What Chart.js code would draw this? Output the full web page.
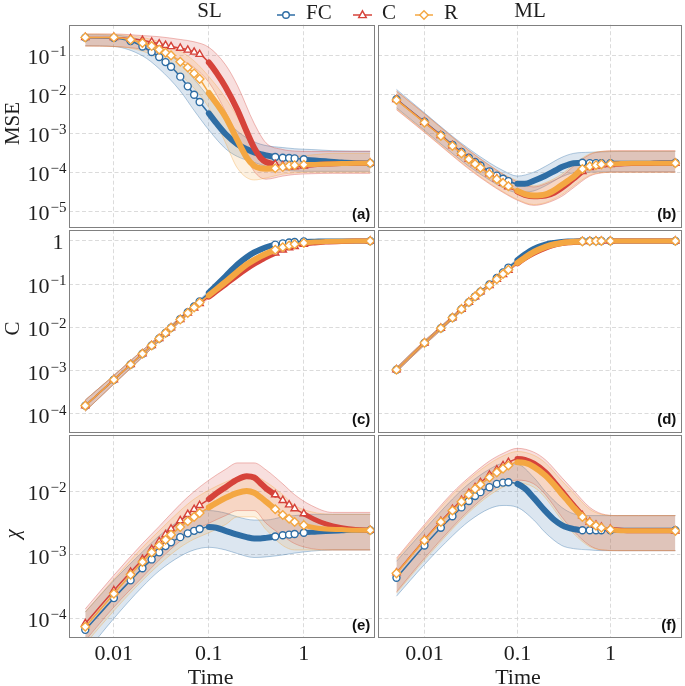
<!DOCTYPE html>
<html>
<head>
<meta charset="utf-8">
<title>MSE, C and chi over time, SL and ML</title>
<script src="https://cdn.jsdelivr.net/npm/chart.js@4.4.1/dist/chart.umd.min.js"></script>
<style>
  html, body { margin: 0; padding: 0; background: #fff; }
  #fig { position: relative; width: 685px; height: 686px; overflow: hidden; }
  #fig canvas { position: absolute; }
</style>
</head>
<body>
<div id="fig"><canvas id="head" width="685" height="26" style="left:0;top:0"></canvas></div>
<script>
// time grid of the mean curves, and of the spread bands
const times = [0.005, 0.01, 0.015, 0.02, 0.025, 0.03, 0.035, 0.04, 0.05, 0.06, 0.07, 0.08, 0.1, 0.12, 0.15, 0.2, 0.25, 0.3, 0.35, 0.4, 0.5, 0.6, 0.7, 0.8, 1, 1.3, 1.7, 2.5, 3.5, 5];
const bandTimes = [0.005, 0.01, 0.02, 0.03, 0.05, 0.07, 0.1, 0.15, 0.2, 0.3, 0.4, 0.6, 0.8, 1.2, 2, 5];

// ticks
const xTicks = [0.01, 0.1, 1];
const xTickLabels = ['0.01', '0.1', '1'];
const mseTicks = [1e-5, 1e-4, 1e-3, 1e-2, 1e-1];
const mseTickLabels = ['10^\u22125', '10^\u22124', '10^\u22123', '10^\u22122', '10^\u22121'];
const concTicks = [1e-4, 1e-3, 1e-2, 1e-1, 1];
const concTickLabels = ['10^\u22124', '10^\u22123', '10^\u22122', '10^\u22121', '1'];
const chiTicks = [1e-4, 1e-3, 1e-2];
const chiTickLabels = ['10^\u22124', '10^\u22123', '10^\u22122'];

// (a) SL, MSE
const slMseFC = [0.28, 0.275, 0.229, 0.166, 0.12, 0.089, 0.066, 0.05, 0.028, 0.0158, 0.0096, 0.0063, 0.0032, 0.0018, 9.5e-4, 5.2e-4, 3.9e-4, 3.2e-4, 2.9e-4, 2.7e-4, 2.45e-4, 2.35e-4, 2.3e-4, 2.25e-4, 2.15e-4, 2.05e-4, 1.95e-4, 1.82e-4, 1.75e-4, 1.7e-4];
const slMseC = [0.284, 0.284, 0.263, 0.24, 0.214, 0.195, 0.178, 0.166, 0.151, 0.135, 0.12, 0.105, 0.0646, 0.0355, 0.0151, 0.0039, 0.0011, 4.2e-4, 2.35e-4, 1.82e-4, 1.58e-4, 1.45e-4, 1.38e-4, 1.38e-4, 1.45e-4, 1.55e-4, 1.62e-4, 1.66e-4, 1.7e-4, 1.7e-4];
const slMseR = [0.284, 0.284, 0.248, 0.204, 0.17, 0.138, 0.115, 0.098, 0.0676, 0.0479, 0.0339, 0.0245, 0.0107, 0.0058, 0.0026, 6.6e-4, 2.4e-4, 1.45e-4, 1.26e-4, 1.23e-4, 1.26e-4, 1.35e-4, 1.45e-4, 1.51e-4, 1.55e-4, 1.58e-4, 1.62e-4, 1.66e-4, 1.7e-4, 1.7e-4];
const slMseFCLo = [0.174, 0.166, 0.0955, 0.0447, 0.012, 0.0038, 0.0012, 3.98e-4, 2.51e-4, 1.78e-4, 1.41e-4, 1.15e-4, 1.07e-4, 1.05e-4, 1.05e-4, 1.05e-4];
const slMseFCHi = [0.331, 0.324, 0.24, 0.151, 0.0603, 0.024, 0.0083, 0.0024, 0.00112, 6.0e-4, 4.8e-4, 4.27e-4, 3.98e-4, 3.8e-4, 3.55e-4, 3.39e-4];
const slMseCLo = [0.17, 0.166, 0.141, 0.112, 0.0759, 0.0479, 0.02, 0.00355, 7.94e-4, 1.05e-4, 6.61e-5, 7.94e-5, 8.71e-5, 9.12e-5, 9.33e-5, 9.33e-5];
const slMseCHi = [0.347, 0.347, 0.316, 0.295, 0.251, 0.219, 0.158, 0.0562, 0.0166, 0.00178, 5.62e-4, 3.8e-4, 3.47e-4, 3.39e-4, 3.39e-4, 3.47e-4];
const slMseRLo = [0.17, 0.166, 0.126, 0.0794, 0.0316, 0.0141, 0.00447, 5.62e-4, 1.26e-4, 6.31e-5, 7.08e-5, 8.91e-5, 9.55e-5, 1e-4, 1e-4, 1e-4];
const slMseRHi = [0.347, 0.339, 0.282, 0.219, 0.126, 0.0708, 0.0282, 0.00794, 0.00251, 3.98e-4, 2.63e-4, 2.4e-4, 2.51e-4, 2.75e-4, 3.02e-4, 3.02e-4];

// (b) ML, MSE
const mlMseFC = [7.41e-3, 1.95e-3, 8.91e-4, 5.01e-4, 3.31e-4, 2.34e-4, 1.82e-4, 1.48e-4, 1.05e-4, 8.13e-5, 6.76e-5, 5.89e-5, 5.01e-5, 5.01e-5, 6.03e-5, 8.13e-5, 1.07e-4, 1.35e-4, 1.55e-4, 1.7e-4, 1.74e-4, 1.7e-4, 1.7e-4, 1.7e-4, 1.7e-4, 1.7e-4, 1.7e-4, 1.7e-4, 1.74e-4, 1.74e-4];
const mlMseC = [7.24e-3, 1.91e-3, 8.71e-4, 4.79e-4, 3.09e-4, 2.19e-4, 1.66e-4, 1.32e-4, 9.12e-5, 6.76e-5, 5.25e-5, 4.27e-5, 3.16e-5, 2.63e-5, 2.4e-5, 2.51e-5, 3.02e-5, 3.98e-5, 5.25e-5, 6.76e-5, 1.05e-4, 1.32e-4, 1.45e-4, 1.55e-4, 1.58e-4, 1.62e-4, 1.66e-4, 1.66e-4, 1.7e-4, 1.7e-4];
const mlMseR = [7.08e-3, 1.86e-3, 8.51e-4, 4.68e-4, 3.02e-4, 2.14e-4, 1.62e-4, 1.29e-4, 8.91e-5, 6.61e-5, 5.25e-5, 4.37e-5, 3.31e-5, 2.75e-5, 2.51e-5, 2.69e-5, 3.47e-5, 4.68e-5, 6.03e-5, 7.59e-5, 1.2e-4, 1.41e-4, 1.51e-4, 1.58e-4, 1.62e-4, 1.66e-4, 1.7e-4, 1.7e-4, 1.7e-4, 1.7e-4];
const mlMseFCLo = [4.47e-3, 1.17e-3, 3.02e-4, 1.41e-4, 6.31e-5, 3.98e-5, 3.02e-5, 3.31e-5, 4.47e-5, 7.59e-5, 9.55e-5, 1e-4, 1.02e-4, 1.02e-4, 1.02e-4, 1.02e-4];
const mlMseFCHi = [1.32e-2, 3.31e-3, 8.32e-4, 3.98e-4, 1.74e-4, 1.1e-4, 7.94e-5, 1e-4, 1.41e-4, 2.4e-4, 3.02e-4, 3.24e-4, 3.31e-4, 3.39e-4, 3.39e-4, 3.39e-4];
const mlMseCLo = [3.98e-3, 1.05e-3, 2.63e-4, 1.2e-4, 5.01e-5, 3.02e-5, 1.91e-5, 1.41e-5, 1.58e-5, 2.4e-5, 3.98e-5, 7.94e-5, 9.55e-5, 1e-4, 1e-4, 1e-4];
const mlMseCHi = [1.2e-2, 3.16e-3, 7.94e-4, 3.63e-4, 1.51e-4, 8.91e-5, 5.62e-5, 4.17e-5, 5.01e-5, 7.94e-5, 1.41e-4, 2.82e-4, 3.39e-4, 3.55e-4, 3.55e-4, 3.55e-4];
const mlMseRLo = [4.17e-3, 1.1e-3, 2.75e-4, 1.26e-4, 5.25e-5, 3.16e-5, 2e-5, 1.48e-5, 1.66e-5, 2.63e-5, 4.37e-5, 8.32e-5, 9.77e-5, 1e-4, 1e-4, 1e-4];
const mlMseRHi = [1.17e-2, 3.09e-3, 7.76e-4, 3.55e-4, 1.48e-4, 8.91e-5, 6.03e-5, 4.47e-5, 5.37e-5, 8.91e-5, 1.58e-4, 2.95e-4, 3.39e-4, 3.47e-4, 3.47e-4, 3.47e-4];

// (c) SL, C
const slConcFC = [1.55e-4, 6.17e-4, 1.38e-3, 2.45e-3, 3.8e-3, 5.5e-3, 7.41e-3, 9.77e-3, 1.55e-2, 2.24e-2, 3.02e-2, 3.98e-2, 6.31e-2, 9.33e-2, 0.151, 0.282, 0.417, 0.537, 0.631, 0.708, 0.813, 0.871, 0.912, 0.933, 0.966, 0.977, 0.989, 0.99, 0.99, 0.99];
const slConcC = [1.55e-4, 6.17e-4, 1.38e-3, 2.45e-3, 3.8e-3, 5.5e-3, 7.41e-3, 9.77e-3, 1.51e-2, 2.14e-2, 2.82e-2, 3.55e-2, 5.13e-2, 6.92e-2, 0.1, 0.162, 0.229, 0.295, 0.355, 0.417, 0.525, 0.617, 0.692, 0.741, 0.832, 0.891, 0.933, 0.966, 0.982, 0.99];
const slConcR = [1.55e-4, 6.17e-4, 1.38e-3, 2.45e-3, 3.8e-3, 5.5e-3, 7.41e-3, 9.77e-3, 1.51e-2, 2.14e-2, 2.88e-2, 3.72e-2, 5.5e-2, 7.59e-2, 0.112, 0.191, 0.282, 0.363, 0.437, 0.501, 0.617, 0.708, 0.776, 0.832, 0.891, 0.933, 0.955, 0.977, 0.988, 0.99];
const slConcFCLo = [1.15e-4, 4.9e-4, 2.04e-3, 4.79e-3, 1.38e-2, 2.75e-2, 5.75e-2, 0.138, 0.257, 0.501, 0.661, 0.832, 0.902, 0.951, 0.968, 0.968];
const slConcFCHi = [2.09e-4, 7.76e-4, 2.95e-3, 6.31e-3, 1.74e-2, 3.31e-2, 6.92e-2, 0.166, 0.309, 0.575, 0.759, 0.912, 0.966, 0.995, 1.014, 1.014];
const slConcCLo = [1.15e-4, 4.9e-4, 2.04e-3, 4.79e-3, 1.35e-2, 2.57e-2, 4.68e-2, 9.12e-2, 0.148, 0.275, 0.389, 0.589, 0.716, 0.851, 0.933, 0.966];
const slConcCHi = [2.09e-4, 7.76e-4, 2.95e-3, 6.31e-3, 1.7e-2, 3.09e-2, 5.62e-2, 0.11, 0.178, 0.316, 0.447, 0.646, 0.767, 0.891, 0.977, 1.012];
const slConcRLo = [1.15e-4, 4.9e-4, 2.04e-3, 4.79e-3, 1.35e-2, 2.63e-2, 5.01e-2, 0.102, 0.174, 0.339, 0.468, 0.676, 0.804, 0.891, 0.944, 0.968];
const slConcRHi = [2.09e-4, 7.76e-4, 2.95e-3, 6.31e-3, 1.7e-2, 3.16e-2, 6.03e-2, 0.123, 0.209, 0.389, 0.537, 0.741, 0.861, 0.933, 0.989, 1.014];

// (d) ML, C
const mlConcFC = [1.05e-3, 4.37e-3, 9.55e-3, 1.66e-2, 2.63e-2, 3.8e-2, 5.13e-2, 6.61e-2, 9.77e-2, 0.138, 0.186, 0.24, 0.355, 0.479, 0.646, 0.813, 0.891, 0.933, 0.955, 0.966, 0.977, 0.984, 0.989, 0.99, 0.99, 0.99, 0.99, 0.99, 0.99, 0.99];
const mlConcC = [1.05e-3, 4.37e-3, 9.55e-3, 1.66e-2, 2.63e-2, 3.8e-2, 5.13e-2, 6.61e-2, 9.33e-2, 0.129, 0.166, 0.209, 0.302, 0.398, 0.525, 0.692, 0.813, 0.881, 0.918, 0.94, 0.964, 0.975, 0.982, 0.986, 0.99, 0.99, 0.99, 0.99, 0.99, 0.99];
const mlConcR = [1.05e-3, 4.37e-3, 9.55e-3, 1.66e-2, 2.63e-2, 3.8e-2, 5.13e-2, 6.61e-2, 9.33e-2, 0.129, 0.17, 0.214, 0.309, 0.407, 0.55, 0.724, 0.832, 0.891, 0.923, 0.944, 0.966, 0.977, 0.982, 0.986, 0.99, 0.99, 0.99, 0.99, 0.99, 0.99];
const mlConcFCLo = [9.33e-4, 3.89e-3, 1.51e-2, 3.47e-2, 9.12e-2, 0.174, 0.331, 0.617, 0.776, 0.912, 0.944, 0.962, 0.968, 0.968, 0.968, 0.968];
const mlConcFCHi = [1.17e-3, 4.9e-3, 1.82e-2, 4.17e-2, 0.105, 0.2, 0.38, 0.676, 0.851, 0.955, 0.989, 1.007, 1.014, 1.014, 1.014, 1.014];
const mlConcCLo = [9.33e-4, 3.89e-3, 1.51e-2, 3.47e-2, 8.71e-2, 0.155, 0.282, 0.501, 0.661, 0.861, 0.918, 0.953, 0.964, 0.968, 0.968, 0.968];
const mlConcCHi = [1.17e-3, 4.9e-3, 1.82e-2, 4.17e-2, 0.1, 0.178, 0.324, 0.55, 0.724, 0.902, 0.962, 0.998, 1.009, 1.014, 1.014, 1.014];
const mlConcRLo = [9.33e-4, 3.89e-3, 1.51e-2, 3.47e-2, 8.71e-2, 0.158, 0.288, 0.525, 0.692, 0.871, 0.923, 0.955, 0.964, 0.968, 0.968, 0.968];
const mlConcRHi = [1.17e-3, 4.9e-3, 1.82e-2, 4.17e-2, 0.1, 0.182, 0.331, 0.575, 0.759, 0.912, 0.966, 1.0, 1.009, 1.014, 1.014, 1.014];

// (e) SL, chi
const slChiFC = [6.61e-5, 2.09e-4, 3.98e-4, 6.17e-4, 8.51e-4, 1.1e-3, 1.38e-3, 1.58e-3, 1.91e-3, 2.19e-3, 2.4e-3, 2.57e-3, 2.75e-3, 2.69e-3, 2.4e-3, 2.09e-3, 1.91e-3, 1.82e-3, 1.82e-3, 1.86e-3, 1.95e-3, 2.04e-3, 2.09e-3, 2.14e-3, 2.24e-3, 2.29e-3, 2.34e-3, 2.4e-3, 2.45e-3, 2.45e-3];
const slChiC = [8.32e-5, 2.75e-4, 5.37e-4, 8.51e-4, 1.23e-3, 1.62e-3, 2.09e-3, 2.57e-3, 3.47e-3, 4.37e-3, 5.25e-3, 6.03e-3, 7.59e-3, 9.33e-3, 1.17e-2, 1.55e-2, 1.74e-2, 1.66e-2, 1.35e-2, 1.12e-2, 8.91e-3, 7.24e-3, 6.17e-3, 5.37e-3, 4.47e-3, 3.63e-3, 3.09e-3, 2.69e-3, 2.51e-3, 2.45e-3];
const slChiR = [7.41e-5, 2.45e-4, 4.9e-4, 7.76e-4, 1.1e-3, 1.41e-3, 1.74e-3, 2.09e-3, 2.75e-3, 3.39e-3, 3.98e-3, 4.57e-3, 5.62e-3, 6.61e-3, 7.94e-3, 9.55e-3, 1.02e-2, 9.55e-3, 8.13e-3, 6.92e-3, 5.25e-3, 4.27e-3, 3.72e-3, 3.31e-3, 2.95e-3, 2.69e-3, 2.57e-3, 2.51e-3, 2.45e-3, 2.45e-3];
const slChiFCLo = [2.82e-5, 1e-4, 3.16e-4, 5.62e-4, 9.55e-4, 1.2e-3, 1.32e-3, 1.2e-3, 1.05e-3, 9.12e-4, 9.33e-4, 1e-3, 1.07e-3, 1.15e-3, 1.2e-3, 1.2e-3];
const slChiFCHi = [1.26e-4, 3.98e-4, 1.12e-3, 2e-3, 3.55e-3, 4.57e-3, 5.01e-3, 4.57e-3, 3.98e-3, 3.55e-3, 3.55e-3, 3.98e-3, 4.17e-3, 4.37e-3, 4.37e-3, 4.37e-3];
const slChiCLo = [4.47e-5, 1.51e-4, 4.47e-4, 8.32e-4, 1.66e-3, 2.4e-3, 3.16e-3, 4.17e-3, 5.01e-3, 5.01e-3, 3.16e-3, 2e-3, 1.51e-3, 1.26e-3, 1.2e-3, 1.2e-3];
const slChiCHi = [1.41e-4, 4.79e-4, 1.51e-3, 2.82e-3, 6.31e-3, 1e-2, 1.51e-2, 2.24e-2, 2.82e-2, 2.82e-2, 2.19e-2, 1.32e-2, 8.91e-3, 6.03e-3, 4.68e-3, 4.68e-3];
const slChiRLo = [3.98e-5, 1.32e-4, 3.98e-4, 7.08e-4, 1.32e-3, 1.78e-3, 2.24e-3, 3.02e-3, 3.98e-3, 3.98e-3, 2.51e-3, 1.41e-3, 1.2e-3, 1.2e-3, 1.2e-3, 1.2e-3];
const slChiRHi = [1.26e-4, 4.17e-4, 1.32e-3, 2.4e-3, 5.01e-3, 7.59e-3, 1.05e-2, 1.41e-2, 1.66e-2, 1.74e-2, 1.41e-2, 8.91e-3, 6.03e-3, 4.79e-3, 4.37e-3, 4.37e-3];

// (f) ML, chi
const mlChiFC = [4.37e-4, 1.41e-3, 2.69e-3, 4.07e-3, 5.62e-3, 7.08e-3, 8.51e-3, 9.77e-3, 1.17e-2, 1.32e-2, 1.38e-2, 1.4e-2, 1.32e-2, 1.12e-2, 7.94e-3, 4.9e-3, 3.55e-3, 2.95e-3, 2.69e-3, 2.57e-3, 2.45e-3, 2.45e-3, 2.45e-3, 2.45e-3, 2.45e-3, 2.45e-3, 2.45e-3, 2.45e-3, 2.45e-3, 2.45e-3];
const mlChiC = [5.25e-4, 1.74e-3, 3.39e-3, 5.25e-3, 7.24e-3, 9.33e-3, 1.15e-2, 1.38e-2, 1.82e-2, 2.19e-2, 2.57e-2, 2.88e-2, 3.24e-2, 3.16e-2, 2.75e-2, 2e-2, 1.38e-2, 1e-2, 7.59e-3, 6.03e-3, 4.17e-3, 3.31e-3, 2.95e-3, 2.75e-3, 2.57e-3, 2.45e-3, 2.4e-3, 2.4e-3, 2.4e-3, 2.4e-3];
const mlChiR = [5.13e-4, 1.7e-3, 3.31e-3, 5.01e-3, 6.92e-3, 8.91e-3, 1.1e-2, 1.29e-2, 1.66e-2, 2e-2, 2.29e-2, 2.57e-2, 2.88e-2, 2.82e-2, 2.45e-2, 1.78e-2, 1.26e-2, 9.12e-3, 7.08e-3, 5.62e-3, 3.98e-3, 3.24e-3, 2.88e-3, 2.69e-3, 2.51e-3, 2.4e-3, 2.4e-3, 2.4e-3, 2.4e-3, 2.4e-3];
const mlChiFCLo = [2.24e-4, 7.08e-4, 2e-3, 3.39e-3, 5.37e-3, 6.03e-3, 5.62e-3, 3.55e-3, 2.24e-3, 1.41e-3, 1.26e-3, 1.2e-3, 1.17e-3, 1.17e-3, 1.17e-3, 1.17e-3];
const mlChiFCHi = [7.94e-4, 2.51e-3, 7.59e-3, 1.32e-2, 2.24e-2, 2.75e-2, 2.69e-2, 1.66e-2, 1e-2, 5.62e-3, 4.47e-3, 4.17e-3, 4.17e-3, 4.17e-3, 4.17e-3, 4.17e-3];
const mlChiCLo = [2.63e-4, 8.91e-4, 2.75e-3, 5.01e-3, 9.55e-3, 1.32e-2, 1.51e-2, 1.32e-2, 8.91e-3, 3.98e-3, 2.4e-3, 1.41e-3, 1.2e-3, 1.17e-3, 1.17e-3, 1.17e-3];
const mlChiCHi = [8.91e-4, 3.02e-3, 9.55e-3, 1.66e-2, 3.02e-2, 3.98e-2, 4.79e-2, 4.17e-2, 3.16e-2, 1.66e-2, 1.05e-2, 5.62e-3, 4.47e-3, 4.17e-3, 4.17e-3, 4.17e-3];
const mlChiRLo = [2.51e-4, 8.32e-4, 2.57e-3, 4.68e-3, 8.71e-3, 1.17e-2, 1.35e-2, 1.17e-2, 7.94e-3, 3.55e-3, 2.19e-3, 1.35e-3, 1.2e-3, 1.17e-3, 1.17e-3, 1.17e-3];
const mlChiRHi = [8.51e-4, 2.82e-3, 8.91e-3, 1.55e-2, 2.75e-2, 3.63e-2, 4.27e-2, 3.72e-2, 2.82e-2, 1.48e-2, 9.55e-3, 5.25e-3, 4.37e-3, 4.17e-3, 4.17e-3, 4.17e-3];

const seriesNames = ['FC', 'C', 'R'];
const colors = ['#2e6da4', '#d6433a', '#f4a742'];
const markers = ['circle', 'triangle', 'rectRot'];
const markerSize = [3.5, 4.2, 4.3];

const SERIF = '"Liberation Serif", "DejaVu Serif", serif';
const GRID = '#d2d2d2';

// canvas boxes: columns and rows (chart area: x 69-376 / 376-682, y 23-228 / 228-433 / 433-637)
const cols = [
  { left: 0, width: 380, yAxisW: 69, padL: 0, padR: 4, xMin: 0.00337, xMax: 5.52 },
  { left: 372, width: 314, yAxisW: 0, padL: 4, padR: 4, xMin: 0.00314, xMax: 5.65 }
];
const rows = [
  { top: 19, height: 213, xAxisH: 0, padB: 4, yMin: 4.1e-6, yMax: 0.6, ticks: mseTicks, labels: mseTickLabels, title: 'MSE', italic: false },
  { top: 224, height: 213, xAxisH: 0, padB: 4, yMin: 3.96e-5, yMax: 1.8, ticks: concTicks, labels: concTickLabels, title: 'C', italic: false },
  { top: 429, height: 257, xAxisH: 49, padB: 0, yMin: 5.1e-5, yMax: 0.0785, ticks: chiTicks, labels: chiTickLabels, title: '\u03c7', italic: true }
];

const panels = [
  { col: 0, row: 0, tag: '(a)', mean: [slMseFC, slMseC, slMseR], lo: [slMseFCLo, slMseCLo, slMseRLo], hi: [slMseFCHi, slMseCHi, slMseRHi] },
  { col: 1, row: 0, tag: '(b)', mean: [mlMseFC, mlMseC, mlMseR], lo: [mlMseFCLo, mlMseCLo, mlMseRLo], hi: [mlMseFCHi, mlMseCHi, mlMseRHi] },
  { col: 0, row: 1, tag: '(c)', mean: [slConcFC, slConcC, slConcR], lo: [slConcFCLo, slConcCLo, slConcRLo], hi: [slConcFCHi, slConcCHi, slConcRHi] },
  { col: 1, row: 1, tag: '(d)', mean: [mlConcFC, mlConcC, mlConcR], lo: [mlConcFCLo, mlConcCLo, mlConcRLo], hi: [mlConcFCHi, mlConcCHi, mlConcRHi] },
  { col: 0, row: 2, tag: '(e)', mean: [slChiFC, slChiC, slChiR], lo: [slChiFCLo, slChiCLo, slChiRLo], hi: [slChiFCHi, slChiCHi, slChiRHi] },
  { col: 1, row: 2, tag: '(f)', mean: [mlChiFC, mlChiC, mlChiR], lo: [mlChiFCLo, mlChiCLo, mlChiRLo], hi: [mlChiFCHi, mlChiCHi, mlChiRHi] }
];

function alpha(hex, a) {
  const n = parseInt(hex.slice(1), 16);
  return `rgba(${n >> 16},${(n >> 8) & 255},${n & 255},${a})`;
}
function pts(xs, ys) { return xs.map((x, i) => ({ x, y: ys[i] })); }

// markers are only drawn where the original ones stay apart; dense stretches become a thick line
function markerOn(x) { return x <= 0.085 || (x >= 0.5 && x <= 1.05) || x >= 4.9; }
function thickWidth(c) {
  const x0 = c.p0.parsed.x, x1 = c.p1.parsed.x;
  if (x0 >= 0.099 && x1 <= 0.51) return 6;
  if (x0 >= 0.99) return 5;
  return undefined;
}

function makeDecor(p) {
  const row = rows[p.row];
  return {
    id: 'decor',
    afterDraw(chart) {
      const { ctx, chartArea: a } = chart;
      const xs = chart.scales.x, ys = chart.scales.y;
      ctx.save();
      ctx.strokeStyle = '#808080';
      ctx.lineWidth = 1;
      ctx.strokeRect(Math.round(a.left) + 0.5, Math.round(a.top) + 0.5, Math.round(a.right - a.left), Math.round(a.bottom - a.top));
      ctx.fillStyle = '#1e1e1e';
      ctx.textBaseline = 'alphabetic';
      if (p.col === 0) {
        ctx.textAlign = 'right';
        row.ticks.forEach((v, i) => {
          const py = ys.getPixelForValue(v);
          const [base, exp] = row.labels[i].split('^');
          const right = a.left - 2.5;
          if (exp) {
            ctx.font = '15px ' + SERIF;
            ctx.fillText(exp, right, py + 1);
            const w = ctx.measureText(exp).width;
            ctx.font = '22px ' + SERIF;
            ctx.fillText(base, right - w - 1, py + 9);
          } else {
            ctx.font = '22px ' + SERIF;
            ctx.fillText(base, right - 3, py + 8.5);
          }
        });
        ctx.save();
        ctx.translate(18.5, (a.top + a.bottom) / 2 - 2);
        ctx.rotate(-Math.PI / 2);
        ctx.textAlign = 'center';
        ctx.font = (row.italic ? 'italic ' : '') + '21px ' + SERIF;
        ctx.fillText(row.title, 0, 0);
        ctx.restore();
      }
      if (p.row === 2) {
        ctx.textAlign = 'center';
        ctx.font = '22px ' + SERIF;
        xTicks.forEach((v, i) => ctx.fillText(xTickLabels[i], xs.getPixelForValue(v), a.bottom + 23));
        ctx.fillText('Time', (a.left + a.right) / 2 - 11, a.bottom + 47);
      }
      ctx.textAlign = 'right';
      ctx.font = 'bold 15px "Liberation Sans", Arial, sans-serif';
      ctx.fillStyle = '#111';
      ctx.fillText(p.tag, a.right - 4, a.bottom - 7.5);
      ctx.restore();
    }
  };
}

const fig = document.getElementById('fig');

panels.forEach(p => {
  const col = cols[p.col], row = rows[p.row];
  const cv = document.createElement('canvas');
  cv.width = col.width;
  cv.height = row.height;
  cv.style.left = col.left + 'px';
  cv.style.top = row.top + 'px';
  fig.appendChild(cv);

  const datasets = [];
  seriesNames.forEach((name, k) => {
    datasets.push({
      label: name + ' upper',
      data: pts(bandTimes, p.hi[k]),
      borderColor: alpha(colors[k], 0.45),
      borderWidth: 0.8,
      backgroundColor: alpha(colors[k], 0.17),
      fill: '+1',
      pointRadius: 0,
      cubicInterpolationMode: 'monotone',
      order: 12 - k
    });
    datasets.push({
      label: name + ' lower',
      data: pts(bandTimes, p.lo[k]),
      borderColor: alpha(colors[k], 0.45),
      borderWidth: 0.8,
      fill: false,
      pointRadius: 0,
      cubicInterpolationMode: 'monotone',
      order: 12 - k
    });
  });
  seriesNames.forEach((name, k) => {
    datasets.push({
      label: name,
      data: pts(times, p.mean[k]),
      borderColor: colors[k],
      borderWidth: 1.5,
      borderCapStyle: 'round',
      borderJoinStyle: 'round',
      fill: false,
      pointStyle: markers[k],
      pointRadius: c => (c.raw && !markerOn(c.raw.x)) ? 0 : markerSize[k],
      pointBorderWidth: 1.4,
      pointBorderColor: colors[k],
      pointBackgroundColor: '#ffffff',
      segment: { borderWidth: thickWidth },
      cubicInterpolationMode: 'monotone',
      order: 2 - k
    });
  });

  new Chart(cv, {
    type: 'line',
    data: { datasets },
    options: {
      responsive: false,
      maintainAspectRatio: false,
      animation: false,
      devicePixelRatio: 1,
      events: [],
      layout: { padding: { left: col.padL, right: col.padR, top: 4, bottom: row.padB } },
      plugins: { legend: { display: false }, tooltip: { enabled: false }, title: { display: false } },
      scales: {
        x: {
          type: 'logarithmic',
          min: col.xMin, max: col.xMax, bounds: 'data',
          afterBuildTicks: s => { s.ticks = xTicks.map(v => ({ value: v })); },
          afterFit: s => { s.height = row.xAxisH; },
          ticks: { display: false },
          grid: { color: GRID, lineWidth: 0.8, drawTicks: false },
          border: { display: false, dash: [4, 2.5] }
        },
        y: {
          type: 'logarithmic',
          min: row.yMin, max: row.yMax, bounds: 'data',
          afterBuildTicks: s => { s.ticks = row.ticks.map(v => ({ value: v })); },
          afterFit: s => { s.width = col.yAxisW; },
          ticks: { display: false },
          grid: { color: GRID, lineWidth: 0.8, drawTicks: false },
          border: { display: false, dash: [4, 2.5] }
        }
      }
    },
    plugins: [makeDecor(p)]
  });
});

// header: column titles and the shared legend
(function drawHeader() {
  const h = document.getElementById('head').getContext('2d');
  h.fillStyle = '#1e1e1e';
  h.font = '21px ' + SERIF;
  h.textAlign = 'center';
  h.fillText('SL', 209.5, 17);
  h.fillText('ML', 530, 17);
  const slots = [{ x0: 277, x1: 295, tx: 306 }, { x0: 353, x1: 372, tx: 382 }, { x0: 415, x1: 433, tx: 444 }];
  slots.forEach((s, k) => {
    const cy = 15, cx = (s.x0 + s.x1) / 2;
    h.strokeStyle = colors[k];
    h.lineWidth = 1.5;
    h.beginPath(); h.moveTo(s.x0, cy); h.lineTo(s.x1, cy); h.stroke();
    h.fillStyle = '#fff';
    h.lineWidth = 1.4;
    h.beginPath();
    if (k === 0) {
      h.arc(cx, cy, 3.3, 0, Math.PI * 2);
    } else if (k === 1) {
      h.moveTo(cx, cy - 4.2); h.lineTo(cx + 3.8, cy + 2.6); h.lineTo(cx - 3.8, cy + 2.6); h.closePath();
    } else {
      h.moveTo(cx, cy - 4.2); h.lineTo(cx + 4.2, cy); h.lineTo(cx, cy + 4.2); h.lineTo(cx - 4.2, cy); h.closePath();
    }
    h.fill(); h.stroke();
    h.fillStyle = '#1e1e1e';
    h.textAlign = 'left';
    h.fillText(seriesNames[k], s.tx, 18.5);
  });
})();
</script>
</body>
</html>
